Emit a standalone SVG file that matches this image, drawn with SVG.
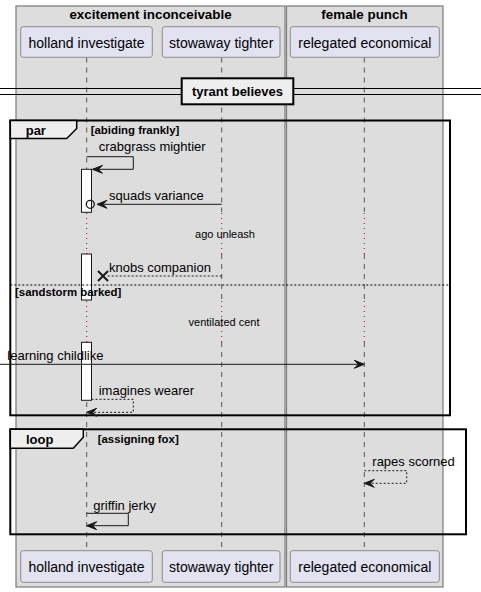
<svg xmlns="http://www.w3.org/2000/svg" width="481" height="592" viewBox="0 0 481 592">
<defs>
<style>
.grp{fill:#DDDDDD;stroke:#7A7A7A;stroke-width:1.2}
.gt{font-family:"Liberation Sans",Arial,sans-serif;font-size:13.4px;font-weight:bold;fill:#000}
.pbox{fill:#E2E2F0;stroke:#8C8C8C;stroke-width:1}
.pt{font-family:"Liberation Sans",Arial,sans-serif;font-size:14px;fill:#000}
.life{stroke:#555;stroke-width:1;stroke-dasharray:5,5;fill:none}
.delay{stroke:#A80036;stroke-width:1;stroke-dasharray:1,4;fill:none}
.act{fill:#FFFFFF;stroke:#181818;stroke-width:1}
.msg{stroke:#181818;stroke-width:1;fill:none}
.dash{stroke-dasharray:2,2}
.ah{fill:#181818;stroke:#181818;stroke-width:1}
.mt{font-family:"Liberation Sans",Arial,sans-serif;font-size:13px;fill:#000}
.st{font-family:"Liberation Sans",Arial,sans-serif;font-size:11px;fill:#000}
.frame{fill:none;stroke:#000;stroke-width:2}
.tab{fill:#EEEEEE;stroke:#000;stroke-width:1.5}
.ft{font-family:"Liberation Sans",Arial,sans-serif;font-size:13px;font-weight:bold;fill:#000}
.fc{font-family:"Liberation Sans",Arial,sans-serif;font-size:11.4px;font-weight:bold;fill:#000}
</style>
</defs>

<g id="group-excitement">
<rect class="grp" x="16" y="6" width="269" height="581"/>
<text class="gt" x="150.5" y="19" text-anchor="middle">excitement inconceivable</text>
</g>
<g id="group-female">
<rect class="grp" x="286.5" y="6" width="156.5" height="581"/>
<text class="gt" x="364.5" y="19" text-anchor="middle">female punch</text>
</g>

<g id="lifelines">
<path class="life" d="M86.7,57.5V212 M86.7,254V300 M86.7,342V551"/>
<path class="life" d="M221.7,57.5V212 M221.7,254V300 M221.7,342V551"/>
<path class="life" d="M364.3,57.5V212 M364.3,254V300 M364.3,342V551"/>
<path class="delay" d="M86.7,213V254 M221.7,213V254 M364.3,213V254"/>
<path class="delay" d="M86.7,301V342 M221.7,301V342 M364.3,301V342"/>
</g>

<g id="p-holland">
<rect class="pbox" x="20.7" y="26.7" width="131.6" height="30.6" rx="2.5"/>
<text class="pt" x="86.5" y="48">holland investigate</text>
<rect class="pbox" x="20.7" y="550.7" width="131.6" height="31.6" rx="2.5"/>
<text class="pt" x="86.5" y="572">holland investigate</text>
</g>
<g id="p-stowaway">
<rect class="pbox" x="162.3" y="26.7" width="117.7" height="30.6" rx="2.5"/>
<text class="pt" x="221.2" y="48">stowaway tighter</text>
<rect class="pbox" x="162.3" y="550.7" width="117.7" height="31.6" rx="2.5"/>
<text class="pt" x="221.2" y="572">stowaway tighter</text>
</g>
<g id="p-relegated">
<rect class="pbox" x="290.3" y="26.7" width="149" height="30.6" rx="2.5"/>
<text class="pt" x="364.8" y="48">relegated economical</text>
<rect class="pbox" x="290.3" y="550.7" width="149" height="31.6" rx="2.5"/>
<text class="pt" x="364.8" y="572">relegated economical</text>
</g>
<style>#p-holland text,#p-stowaway text,#p-relegated text{text-anchor:middle}</style>

<g id="divider-tyrant">
<path d="M0,88.5H481 M0,94.5H481" stroke="#000" stroke-width="1" fill="none"/>
<rect x="181.7" y="78.3" width="111.6" height="26" fill="#EEEEEE" stroke="#000" stroke-width="2"/>
<text class="ft" x="237.5" y="96" text-anchor="middle">tyrant believes</text>
</g>

<g id="activations">
<rect class="act" x="81.5" y="169.3" width="10" height="43"/>
<rect class="act" x="81.5" y="254" width="10" height="46"/>
<rect class="act" x="81.5" y="342.3" width="10" height="58"/>
</g>

<g id="frame-par">
<rect class="frame" x="10.3" y="120.5" width="439.7" height="294.8"/>
<path class="tab" d="M10.3,120.5H76.7V128.5L66.7,138.5H10.3Z"/>
<text class="ft" x="25.7" y="135">par</text>
<text class="fc" x="90.7" y="134">[abiding frankly]</text>
<path d="M10.3,285H450" stroke="#000" stroke-width="1" stroke-dasharray="2,2" fill="none"/>
<text class="fc" x="15" y="296">[sandstorm barked]</text>
</g>

<g id="frame-loop">
<rect class="frame" x="10.3" y="429.3" width="455.7" height="105"/>
<path class="tab" d="M10.3,429.3H83.3V437.3L73.3,448.3H10.3Z"/>
<text class="ft" x="26" y="443.5">loop</text>
<text class="fc" x="97.7" y="443">[assigning fox]</text>
</g>

<g id="connectors">
<!-- crabgrass mightier -->
<path class="msg" d="M86.7,156.7H133.3V169.3H92.5"/>
<polygon class="ah" points="92.5,169.3 102.5,165.3 98.5,169.3 102.5,173.3"/>
<text class="mt" x="98.7" y="150.5">crabgrass mightier</text>
<!-- squads variance -->
<path class="msg" d="M221.7,204.3H99"/>
<polygon class="ah" points="97,204.3 107,200.3 103,204.3 107,208.3"/>
<circle cx="90.3" cy="204.3" r="4" fill="none" stroke="#181818" stroke-width="1.3"/>
<text class="mt" x="109" y="199.5">squads variance</text>
<!-- delay 1 -->
<text class="st" x="225" y="238" text-anchor="middle">ago unleash</text>
<!-- knobs companion -->
<path class="msg dash" d="M221.7,276H106"/>
<path d="M98,271L108,281M98,281L108,271" stroke="#181818" stroke-width="2" fill="none"/>
<text class="mt" x="109" y="272">knobs companion</text>
<!-- delay 2 -->
<text class="st" x="224" y="325.5" text-anchor="middle">ventilated cent</text>
<!-- learning childlike -->
<path class="msg" d="M0,364.3H363"/>
<polygon class="ah" points="364.3,364.3 354.3,360.3 358.3,364.3 354.3,368.3"/>
<text class="mt" x="7.3" y="359.5">learning childlike</text>
<!-- imagines wearer -->
<path class="msg dash" d="M91.5,399.3H133.3V412.3H88"/>
<polygon class="ah" points="86.7,412.3 96.7,408.3 92.7,412.3 96.7,416.3"/>
<text class="mt" x="98.7" y="394.5">imagines wearer</text>
<!-- rapes scorned -->
<path class="msg dash" d="M364.3,470.7H406.7V483.3H366"/>
<polygon class="ah" points="364.3,483.3 374.3,479.3 370.3,483.3 374.3,487.3"/>
<text class="mt" x="372.3" y="466">rapes scorned</text>
<!-- griffin jerky -->
<path class="msg" d="M86.7,513.3H128.3V525.7H88"/>
<polygon class="ah" points="86.7,525.7 96.7,521.7 92.7,525.7 96.7,529.7"/>
<text class="mt" x="93.3" y="510">griffin jerky</text>
</g>
</svg>
